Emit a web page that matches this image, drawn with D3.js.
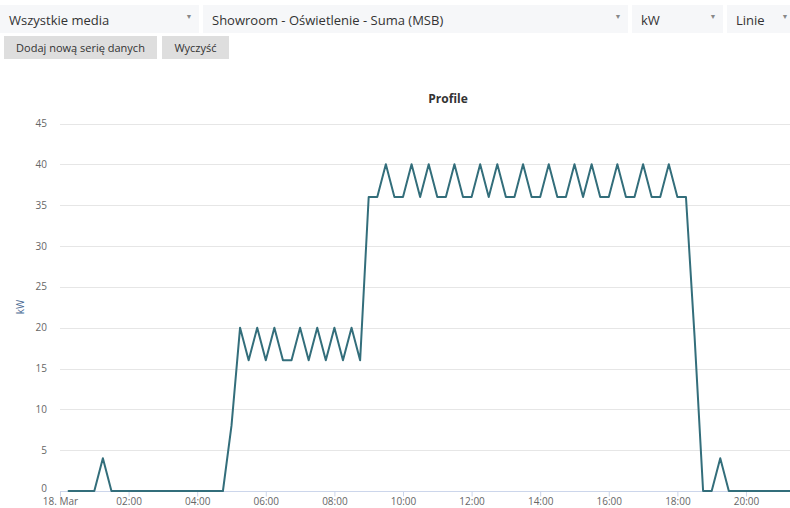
<!DOCTYPE html>
<html>
<head>
<meta charset="utf-8">
<script src="https://cdn.jsdelivr.net/npm/d3@7"></script>
<style>
  html, body { margin: 0; padding: 0; background: #fff; }
  svg { display: block; font-family: "Open Sans", "Noto Sans", sans-serif; }
</style>
</head>
<body>
<svg id="chart" width="790" height="508"></svg>
<script>
// ---- data ----
const chartTitle = "Profile";
const yAxisTitle = "kW";
const dropdownLabels = ["Wszystkie media", "Showroom - Oświetlenie - Suma (MSB)", "kW", "Linie"];
const buttonLabels = ["Dodaj nową serię danych", "Wyczyść"];
const seriesStart = "00:15";          // first sample
const seriesIntervalMinutes = 15;     // sampling interval
const seriesValues = [
  0, 0, 0, 0, 4, 0, 0, 0,             // 00:15 - 02:00
  0, 0, 0, 0, 0, 0, 0, 0,             // 02:15 - 04:00
  0, 0, 0, 8, 20, 16, 20, 16,         // 04:15 - 06:00
  20, 16, 16, 20, 16, 20, 16, 20,     // 06:15 - 08:00
  16, 20, 16, 36, 36, 40, 36, 36,     // 08:15 - 10:00
  40, 36, 40, 36, 36, 40, 36, 36,     // 10:15 - 12:00
  40, 36, 40, 36, 36, 40, 36, 36,     // 12:15 - 14:00
  40, 36, 36, 40, 36, 40, 36, 36,     // 14:15 - 16:00
  40, 36, 36, 40, 36, 36, 40, 36,     // 16:15 - 18:00
  36, 19, 0, 0, 4, 0, 0, 0,           // 18:15 - 20:00
  0, 0, 0, 0, 0, 0                    // 20:15 - 21:30
];
const yTicks = [0, 5, 10, 15, 20, 25, 30, 35, 40, 45];
const xTickHours = [0, 2, 4, 6, 8, 10, 12, 14, 16, 18, 20];
const xTickLabels = ["18. Mar", "02:00", "04:00", "06:00", "08:00", "10:00", "12:00", "14:00", "16:00", "18:00", "20:00"];

// ---- build ----
const svg = d3.select("#chart");

// top controls
const ddBoxes = [[0, 199], [203, 628], [632, 723], [727, 800]];
const ddG = svg.append("g");
dropdownLabels.forEach((lab, i) => {
  const [x0, x1] = ddBoxes[i];
  ddG.append("rect").attr("x", x0).attr("y", 5).attr("width", x1 - x0).attr("height", 28).attr("fill", "#f6f7f9");
  ddG.append("text").attr("x", x0 + 9).attr("y", 24.5).attr("font-size", 13).attr("fill", "#333").text(lab);
  ddG.append("text").attr("x", Math.min(x1, 795) - 10).attr("y", 19).attr("font-size", 7).attr("fill", "#888").attr("text-anchor", "middle").text("▼");
});
const btnBoxes = [[4, 157], [162, 229]];
buttonLabels.forEach((lab, i) => {
  const [x0, x1] = btnBoxes[i];
  ddG.append("rect").attr("x", x0).attr("y", 36).attr("width", x1 - x0).attr("height", 23).attr("fill", "#dedede");
  ddG.append("text").attr("x", (x0 + x1) / 2).attr("y", 51.5).attr("font-size", 11).attr("fill", "#333").attr("text-anchor", "middle").text(lab);
});

// scales
const parseT = d3.timeParse("%H:%M");
const t0 = parseT("00:00");
const startT = parseT(seriesStart);
const data = seriesValues.map((v, i) => ({ t: d3.timeMinute.offset(startT, i * seriesIntervalMinutes), v }));

const plotL = 60, plotR = 790, plotT = 123.5, plotB = 491;
const pxPerHour = 34.3;
const x = d3.scaleTime()
  .domain([t0, d3.timeMinute.offset(t0, Math.round((plotR - plotL) / pxPerHour * 60))])
  .range([plotL, plotR]);
const y = d3.scaleLinear().domain([0, 45]).range([plotB, plotT]);

// grid
svg.append("g").selectAll("line").data(yTicks.filter(d => d > 0)).join("line")
  .attr("x1", plotL).attr("x2", plotR)
  .attr("y1", d => Math.round(y(d)) + 0.5).attr("y2", d => Math.round(y(d)) + 0.5)
  .attr("stroke", "#e6e6e6").attr("stroke-width", 1);

// y labels
svg.append("g").selectAll("text").data(yTicks).join("text")
  .attr("x", 47).attr("y", d => y(d)).attr("dy", d => d === 0 ? "0.05em" : "0.35em")
  .attr("text-anchor", "end").attr("font-size", 10).attr("fill", "#666")
  .text(d => d);

// x axis
const xTickDates = xTickHours.map(h => d3.timeHour.offset(t0, h));
const xAxis = d3.axisBottom(x).tickValues(xTickDates).tickSize(5).tickFormat((d, i) => xTickLabels[i]);
const xg = svg.append("g").attr("transform", `translate(0,${Math.round(plotB) + 0.5})`).call(xAxis);
xg.select(".domain").attr("stroke", "#ccd6eb").attr("d", `M${plotL},0H${plotR}`);
xg.selectAll(".tick line").attr("stroke", "#ccd6eb");
xg.selectAll(".tick text").attr("font-size", 10).attr("fill", "#666").attr("font-family", "Open Sans, sans-serif").attr("y", 6.5).attr("dy", "0.71em");

// line
svg.append("defs").append("clipPath").attr("id", "clip")
  .append("rect").attr("x", plotL).attr("y", plotT - 10).attr("width", plotR - plotL).attr("height", plotB - plotT + 12);
const line = d3.line().x(d => x(d.t)).y(d => y(d.v));
svg.append("path").datum(data)
  .attr("clip-path", "url(#clip)")
  .attr("d", line)
  .attr("fill", "none").attr("stroke", "#336e7b").attr("stroke-width", 2)
  .attr("stroke-linejoin", "round").attr("stroke-linecap", "round");

// titles
svg.append("text").attr("x", 448).attr("y", 103).attr("text-anchor", "middle")
  .attr("font-size", 12).attr("font-weight", "bold").attr("fill", "#333").text(chartTitle);
svg.append("text").attr("transform", `translate(24,307) rotate(-90)`).attr("text-anchor", "middle")
  .attr("font-size", 10).attr("fill", "#4b6b93").text(yAxisTitle);
</script>
</body>
</html>
